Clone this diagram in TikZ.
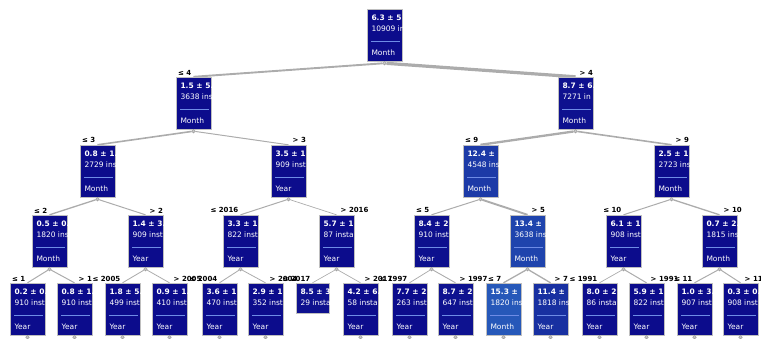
\documentclass[tikz,border=0pt]{standalone}
\usepackage{fontspec}
\setmainfont{DejaVu Sans}
\usetikzlibrary{backgrounds}
\definecolor{boxlow}{RGB}{12,12,140}
\definecolor{boxhigh}{RGB}{38,88,185}
\definecolor{sepblue}{RGB}{110,140,230}
\tikzset{
  boxnode/.style={draw=gray!50, line width=0.4pt, minimum width=35pt, minimum height=52pt, inner sep=0pt},
  leafnode/.style={boxnode, minimum width=33pt, minimum height=30pt},
  boxtext/.style={anchor=west, inner sep=0pt, text=white, font=\fontsize{7.5}{8}\selectfont},
  valtext/.style={boxtext, font=\fontsize{7.5}{8}\selectfont\bfseries},
  splitdot/.style={circle, fill=gray!45, draw=gray!80, line width=0.4pt, inner sep=0pt, minimum size=3.6pt},
  treeedge/.style={draw=gray!65},
  edgelabel/.style={inner sep=0pt, font=\fontsize{7}{8}\selectfont\bfseries}
}

% split box: name, left x, top y, value, count, attribute, shade
\newcommand{\treebox}[7]{%
  \node[boxnode, fill=boxhigh!#7!boxlow] (#1) at (#2+17.5,#3+26) {};
  \begin{scope}
    \clip (#1.south west) rectangle (#1.north east);
    \node[valtext] (#1-val) at ([shift={(4.5,9)}]#1.north west) {#4};
    \node[boxtext] (#1-cnt) at ([shift={(4.5,20)}]#1.north west) {#5};
    \draw[sepblue, line width=0.6pt] ([shift={(4.5,33)}]#1.north west) -- ([shift={(-2,33)}]#1.north east);
    \node[boxtext] (#1-att) at ([shift={(4.5,44)}]#1.north west) {#6};
  \end{scope}
  \node[splitdot] (#1-dot) at ([shift={(0,2)}]#1.south) {};
}
% leaf box: name, left x, top y, value, count, shade
\newcommand{\treeleaf}[6]{%
  \node[leafnode, fill=boxhigh!#6!boxlow] (#1) at (#2+16.5,#3+15) {};
  \begin{scope}
    \clip (#1.south west) rectangle (#1.north east);
    \node[valtext] (#1-val) at ([shift={(4.5,9)}]#1.north west) {#4};
    \node[boxtext] (#1-cnt) at ([shift={(4.5,20)}]#1.north west) {#5};
  \end{scope}
}
% connectors: parent, child, width, label
\newcommand{\leftedge}[4]{%
  \draw[treeedge, line width=#3pt] (#1-dot) -- (#2.north);
  \node[edgelabel, anchor=south east] (#2-lab) at ([shift={(-2,-1.5)}]#2.north) {#4};
}
\newcommand{\rightedge}[4]{%
  \draw[treeedge, line width=#3pt] (#1-dot) -- (#2.north);
  \node[edgelabel, anchor=south west] (#2-lab) at ([shift={(4,-1.5)}]#2.north) {#4};
}

\begin{document}
\begin{tikzpicture}[x=1pt, y=-1pt]
    \useasboundingbox (0,0) rectangle (761,339);

    % root and first split
    \treebox{R}{367}{9}{6.3 ± 5}{10909 ins}{Month}{0}
    \treebox{a}{176}{77}{1.5 ± 5.}{3638 ins}{Month}{0}
    \treebox{b}{558}{77}{8.7 ± 6.}{7271 in}{Month}{6}

    % second level
    \treebox{aa}{80}{145}{0.8 ± 1.}{2729 ins}{Month}{0}
    \treebox{ab}{271}{145}{3.5 ± 1}{909 inst}{Year}{0}
    \treebox{ba}{463}{145}{12.4 ±}{4548 ins}{Month}{60}
    \treebox{bb}{654}{145}{2.5 ± 1}{2723 ins}{Month}{0}

    % third level
    \treebox{aaa}{32}{215}{0.5 ± 0.}{1820 ins}{Month}{0}
    \treebox{aab}{128}{215}{1.4 ± 3.}{909 inst}{Year}{0}
    \treebox{aba}{223}{215}{3.3 ± 1}{822 inst}{Year}{0}
    \treebox{abb}{319}{215}{5.7 ± 1}{87 insta}{Year}{0}
    \treebox{baa}{414}{215}{8.4 ± 2}{910 inst}{Year}{5}
    \treebox{bab}{510}{215}{13.4 ±}{3638 ins}{Month}{74}
    \treebox{bba}{606}{215}{6.1 ± 1}{908 inst}{Year}{0}
    \treebox{bbb}{702}{215}{0.7 ± 2.}{1815 ins}{Month}{0}

    % fourth level
    \treebox{aaaa}{10}{283}{0.2 ± 0.}{910 inst}{Year}{0}
    \treebox{aaab}{57}{283}{0.8 ± 1.}{910 inst}{Year}{0}
    \treebox{aaba}{105}{283}{1.8 ± 5.}{499 inst}{Year}{0}
    \treebox{aabb}{152}{283}{0.9 ± 1.}{410 inst}{Year}{0}
    \treebox{abaa}{202}{283}{3.6 ± 1}{470 inst}{Year}{0}
    \treebox{abab}{248}{283}{2.9 ± 1}{352 inst}{Year}{0}
    \treeleaf{abba}{296}{283}{8.5 ± 3}{29 insta}{7}
    \treebox{abbb}{343}{283}{4.2 ± 6.}{58 insta}{Year}{0}
    \treebox{baaa}{392}{283}{7.7 ± 2}{263 inst}{Year}{0}
    \treebox{baab}{438}{283}{8.7 ± 2}{647 inst}{Year}{8}
    \treebox{baba}{486}{283}{15.3 ±}{1820 ins}{Month}{100}
    \treebox{babb}{533}{283}{11.4 ±}{1818 ins}{Year}{47}
    \treebox{bbaa}{582}{283}{8.0 ± 2}{86 insta}{Year}{2}
    \treebox{bbab}{629}{283}{5.9 ± 1}{822 inst}{Year}{0}
    \treebox{bbba}{677}{283}{1.0 ± 3.}{907 inst}{Year}{0}
    \treebox{bbbb}{723}{283}{0.3 ± 0.}{908 inst}{Year}{0}

    \begin{scope}[on background layer]
    \leftedge{R}{a}{1.9}{≤ 4}
    \rightedge{R}{b}{3.2}{> 4}

    \leftedge{a}{aa}{1.6}{≤ 3}
    \rightedge{a}{ab}{1.0}{> 3}
    \leftedge{b}{ba}{2.3}{≤ 9}
    \rightedge{b}{bb}{1.6}{> 9}

    \leftedge{aa}{aaa}{1.3}{≤ 2}
    \rightedge{aa}{aab}{1.0}{> 2}
    \leftedge{ab}{aba}{1.0}{≤ 2016}
    \rightedge{ab}{abb}{0.7}{> 2016}
    \leftedge{ba}{baa}{1.0}{≤ 5}
    \rightedge{ba}{bab}{1.9}{> 5}
    \leftedge{bb}{bba}{1.0}{≤ 10}
    \rightedge{bb}{bbb}{1.3}{> 10}

    \leftedge{aaa}{aaaa}{1.0}{≤ 1}
    \rightedge{aaa}{aaab}{1.0}{> 1}
    \leftedge{aab}{aaba}{0.85}{≤ 2005}
    \rightedge{aab}{aabb}{0.8}{> 2005}
    \leftedge{aba}{abaa}{0.85}{≤ 2004}
    \rightedge{aba}{abab}{0.8}{> 2004}
    \leftedge{abb}{abba}{0.65}{≤ 2017}
    \rightedge{abb}{abbb}{0.7}{> 2017}
    \leftedge{baa}{baaa}{0.75}{≤ 1997}
    \rightedge{baa}{baab}{0.9}{> 1997}
    \leftedge{bab}{baba}{1.3}{≤ 7}
    \rightedge{bab}{babb}{1.3}{> 7}
    \leftedge{bba}{bbaa}{0.7}{≤ 1991}
    \rightedge{bba}{bbab}{1.0}{> 1991}
    \leftedge{bbb}{bbba}{1.0}{≤ 11}
    \rightedge{bbb}{bbbb}{1.0}{> 11}
    \end{scope}

\end{tikzpicture}
\end{document}
